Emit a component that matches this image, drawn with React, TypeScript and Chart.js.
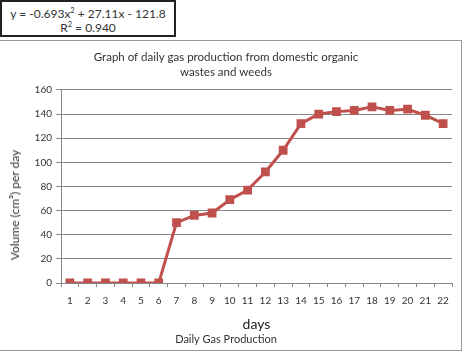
import React, { useEffect, useRef } from "react";
import { Chart, registerables } from "chart.js";

Chart.register(...registerables);

const days = ["1","2","3","4","5","6","7","8","9","10","11","12","13","14","15","16","17","18","19","20","21","22"];
const volume = [0,0,0,0,0,0,50,56,58,69,77,92,110,132,140,142,143,146,143,144,139,132];
const titleLines = ["Graph of daily gas production from domestic organic", "wastes and weeds"];

const FONT = "Lato, 'Liberation Sans', sans-serif";

export default function App() {
  const ref = useRef<HTMLCanvasElement | null>(null);
  useEffect(() => {
    if (!ref.current) return;
    const chart = new Chart(ref.current, {
      type: "line",
      data: {
        labels: days,
        datasets: [
          {
            label: "Daily Gas Production",
            data: volume,
            borderColor: "#c0504d",
            backgroundColor: "#c0504d",
            borderWidth: 3,
            pointStyle: "rect",
            pointRadius: 6.2,
            pointBorderWidth: 0,
            tension: 0,
          },
        ],
      },
      options: {
        animation: false,
        responsive: false,
        layout: { padding: { left: 0, right: 11, top: 0, bottom: 4 } },
        plugins: {
          legend: { display: false },
          tooltip: { enabled: false },
          title: {
            display: true,
            text: titleLines,
            color: "#333",
            font: { family: FONT, size: 11.5, weight: "normal", lineHeight: 1.3 },
            padding: { top: 10, bottom: 10 },
          },
          subtitle: {
            display: true,
            position: "bottom",
            text: "Daily Gas Production",
            color: "#333",
            font: { family: FONT, size: 11, weight: "normal" },
            padding: { top: 0, bottom: 2 },
          },
        },
        scales: {
          x: {
            offset: true,
            grid: {
              offset: true,
              drawOnChartArea: false,
              drawTicks: true,
              tickLength: 4,
              color: "#888",
            },
            border: { color: "#888", width: 1 },
            ticks: { color: "#333", font: { family: FONT, size: 10 }, padding: 8, maxRotation: 0, autoSkip: false },
            title: {
              display: true,
              text: "days",
              color: "#222",
              font: { family: FONT, size: 14 },
              padding: { top: 1, bottom: 0 },
            },
          },
          y: {
            min: 0,
            max: 160,
            afterFit: (scale: any) => {
              scale.width = 61;
            },
            ticks: { stepSize: 20, color: "#333", font: { family: FONT, size: 10 }, padding: 4 },
            grid: { color: "#888", lineWidth: 1, tickLength: 5 },
            border: { color: "#888", width: 1 },
            title: { display: false },
          },
        },
      },
    });
    return () => chart.destroy();
  }, []);

  return (
    <div style={{ position: "absolute", left: 0, top: 0, width: 467, height: 354, background: "#fff", overflow: "hidden" }}>
      <div
        style={{
          position: "absolute",
          left: -2,
          top: 40,
          width: 464,
          height: 311,
          border: "1.5px solid #999",
          boxSizing: "border-box",
        }}
      />
      <canvas ref={ref} width={463} height={312} style={{ position: "absolute", left: 0, top: 40 }} />
      <div
        style={{
          position: "absolute",
          left: 15,
          top: 205,
          width: 0,
          height: 0,
        }}
      >
        <div
          style={{
            position: "absolute",
            left: 0,
            top: 0,
            transform: "translate(-50%, -50%) rotate(-90deg)",
            whiteSpace: "nowrap",
            fontFamily: FONT,
            fontSize: 12,
            color: "#333",
            lineHeight: "14px",
          }}
        >
          Volume (cm³) per day
        </div>
      </div>
      <div
        style={{
          position: "absolute",
          left: 0,
          top: 0,
          width: 176,
          height: 37,
          border: "2px solid #222",
          boxSizing: "border-box",
          fontFamily: FONT,
          fontSize: 12,
          color: "#333",
          textAlign: "center",
          lineHeight: "14px",
          paddingTop: 5,
          background: "#fff",
        }}
      >
        <div>y = -0.693x<sup style={{ fontSize: 7.5, lineHeight: 0 }}>2</sup> + 27.11x - 121.8</div>
        <div>R<sup style={{ fontSize: 7.5, lineHeight: 0 }}>2</sup> = 0.940</div>
      </div>
    </div>
  );
}
